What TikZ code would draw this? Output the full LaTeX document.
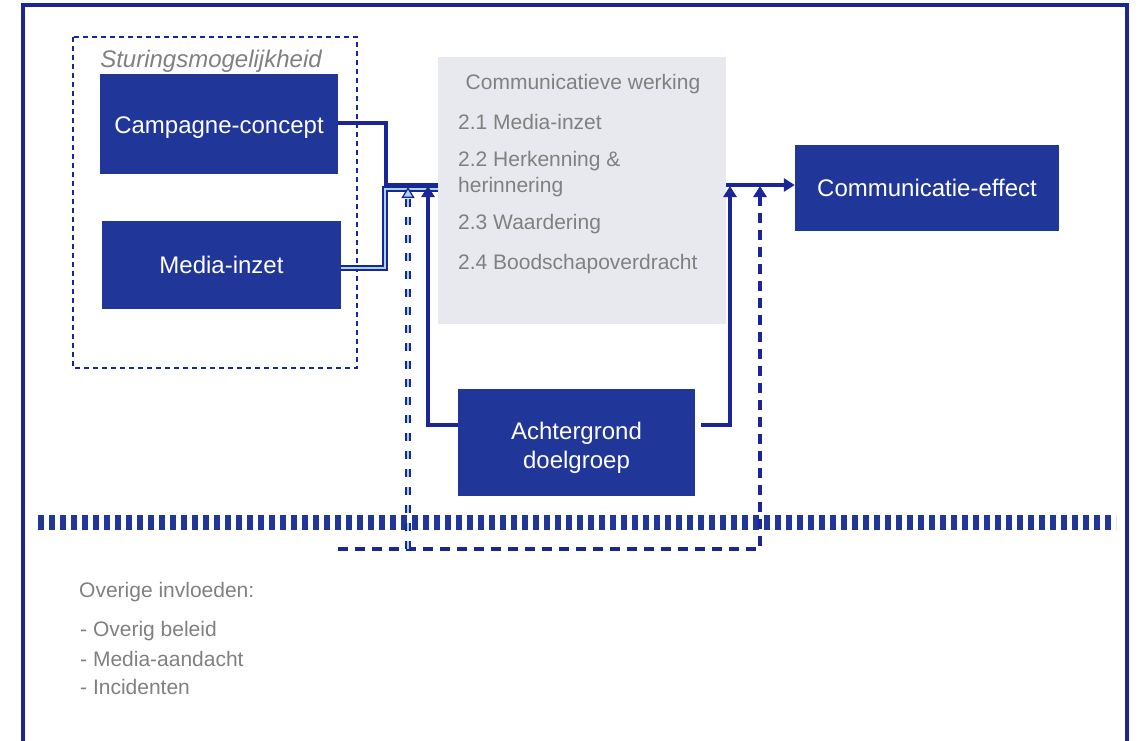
\documentclass[tikz,border=0pt]{standalone}
\usepackage{fontspec}
\setmainfont{Liberation Sans}
\usetikzlibrary{arrows.meta}

\definecolor{boxblue}{RGB}{33,54,153}
\definecolor{lineblue}{RGB}{26,38,150}
\definecolor{panelgray}{RGB}{232,233,238}
\definecolor{textgray}{RGB}{128,128,128}
\definecolor{lightteal}{RGB}{165,215,225}

\begin{document}
\begin{tikzpicture}[x=1pt,y=-1pt,
	bluebox/.style={fill=boxblue,text=white,inner sep=0pt,align=center,text height=17pt,text depth=0pt,font=\fontsize{24}{29}\selectfont},
	graytext/.style={text=textgray,inner sep=0pt,font=\fontsize{21}{25}\selectfont},
	link/.style={draw=lineblue,line width=3.6pt},
	tealink/.style={draw=lineblue,line width=1.3pt,double=lightteal,double distance=2.6pt},
	tip/.style={-{Triangle[width=13pt,length=11pt]}}]

	\useasboundingbox (0,0) rectangle (1140,741);

	% frame
	\draw[lineblue,line width=3.2pt] (23,741) -- (23,5) -- (1127,5) -- (1127,741);

	% steering block
	\draw[lineblue,line width=2.8pt,dash pattern=on 5pt off 4pt] (73,37) rectangle (357,368);
	\node[graytext,font=\fontsize{24}{29}\selectfont\itshape] (sturing) at (211,61) {Sturingsmogelijkheid};
	\node[bluebox,minimum width=238pt,minimum height=100pt,text height=19pt] (campagne) at (219,124) {Campagne-concept};
	\node[bluebox,minimum width=239pt,minimum height=88pt] (media) at (221.5,265) {Media-inzet};

	% communicative working
	\node[fill=panelgray,minimum width=288pt,minimum height=267pt,inner sep=0pt] (werking) at (582,190.5) {};
	\node[graytext] (titel) at (583,84) {Communicatieve werking};
	\foreach \t/\y [count=\i] in {2.1 Media-inzet/122, 2.2 Herkenning \&/161, herinnering/187, 2.3 Waardering/224, 2.4 Boodschapoverdracht/264}
		\node[graytext,anchor=west] (stap\i) at (458,\y) {\t};

	\node[bluebox,minimum width=264pt,minimum height=86pt] (effect) at (927,188) {Communicatie-effect};
	\node[bluebox,minimum width=237pt,minimum height=107pt,text height=51pt] (achtergrond) at (576.5,442.5) {Achtergrond\\doelgroep};

	% divider
	\draw[boxblue,line width=15pt,dash pattern=on 6pt off 5pt] (38,522) -- (1116,522);

	% links
	\coordinate (join) at (386,185);
	\coordinate (join2) at (385,189);
	\coordinate (inA) at (428,186);
	\coordinate (inB) at (730,186);
	\coordinate (rest) at (338,549);
	\coordinate (restA) at (408,187);
	\coordinate (restB) at (760,186);

	\draw[tealink] ([yshift=-3pt]media.east) -| (join2) -- (werking.west |- join2);
	\draw[link] ([yshift=1pt]campagne.east) -| (join) -- (werking.west |- join);
	\draw[link,tip] (achtergrond.west) ++(0,-17.5) -| (inA);
	\draw[link,tip,shorten <=6pt] (achtergrond.east) ++(0,-17.5) -| (inB);
	\draw[link,tip] (werking.east |- join) -- (effect.west |- join);

	% other influences
	\draw[link,line width=3.4pt,dash pattern=on 10pt off 7pt,tip] (rest) -| (restB);
	\draw[tealink,dash pattern=on 8pt off 10pt,-{Triangle[width=13pt,length=11pt,fill=lightteal]}] (rest -| restA) -- (restA);

	\node[graytext,anchor=west] (overig) at (79,592) {Overige invloeden:};
	\foreach \t/\y [count=\i] in {Overig beleid/631, Media-aandacht/659, Incidenten/687}
		\node[graytext,anchor=west] (invloed\i) at (80,\y) {- \t};

\end{tikzpicture}
\end{document}
